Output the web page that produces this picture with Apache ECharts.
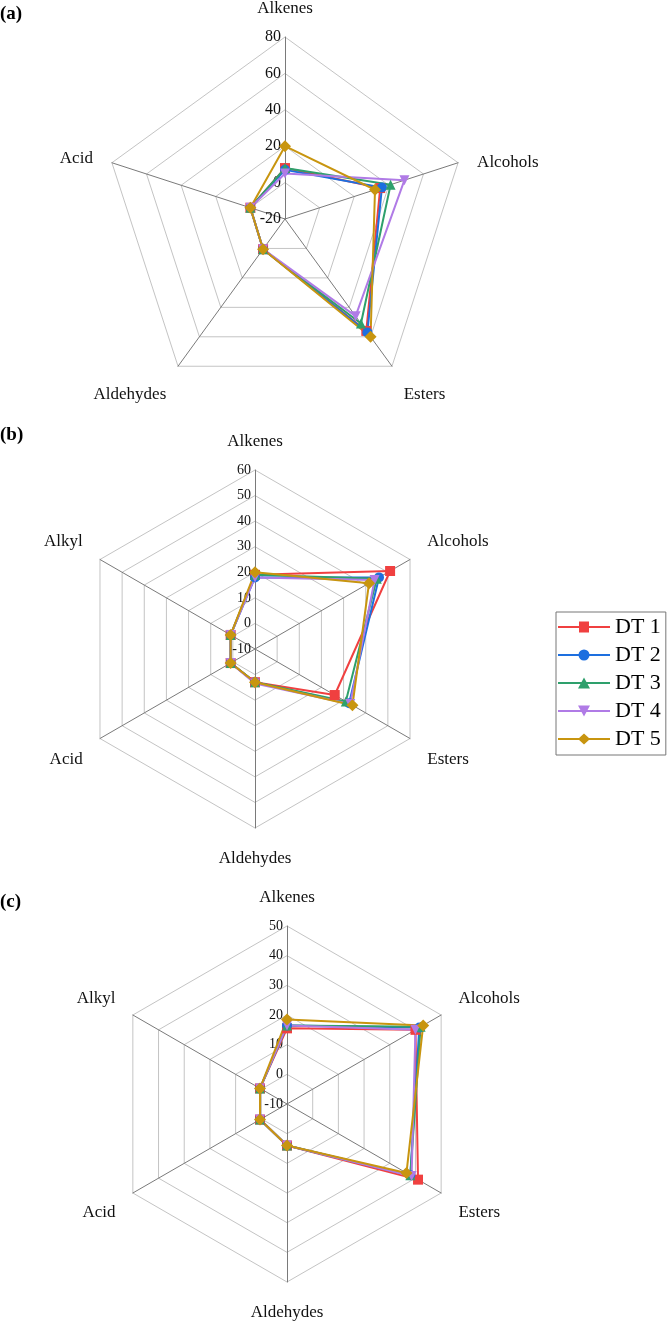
<!DOCTYPE html>
<html>
<head>
<meta charset="utf-8">
<script src="https://cdn.jsdelivr.net/npm/echarts@6/dist/echarts.min.js"></script>
<style>
  html, body { margin: 0; padding: 0; background: #fff; }
  #chart { width: 669px; height: 1329px; }
</style>
</head>
<body>
<div id="chart"></div>
<script>
// categories, clockwise from the top
const catsA = ['Alkenes', 'Alcohols', 'Esters', 'Aldehydes', 'Acid']
const catsB = ['Alkenes', 'Alcohols', 'Esters', 'Aldehydes', 'Acid', 'Alkyl']
const catsC = ['Alkenes', 'Alcohols', 'Esters', 'Aldehydes', 'Acid', 'Alkyl']

const seriesNames = ['DT 1', 'DT 2', 'DT 3', 'DT 4', 'DT 5']

// panel (a)
const dataA = [
  [8, 35, 56, 0.5, 0],
  [7, 36, 57, 0.5, 0],
  [8, 41, 51, 0.5, 0],
  [5, 49, 46, 0.5, 0],
  [20, 32, 60, 0.5, 0]
]
// panel (b)
const dataB = [
  [19, 51, 26, 3, 1, 1],
  [18, 46, 32.5, 3, 1, 1],
  [19, 45, 31, 3, 1, 1],
  [18, 44, 33, 3.5, 1, 1],
  [20, 41.5, 34, 3, 1, 1]
]
// panel (c)
const dataC = [
  [15.5, 40, 41, 4, 0.5, 0.5],
  [16.5, 41.5, 38, 4, 0.5, 0.5],
  [16.5, 42, 38, 4, 0.5, 0.5],
  [16.5, 40, 38.5, 4, 0.5, 0.5],
  [18.5, 43, 36.5, 4, 0.5, 0.5]
]

// radial scales: [min, max, splitNumber]
const scaleA = [-20, 80, 5]
const scaleB = [-10, 60, 7]
const scaleC = [-10, 50, 6]

// vertical nudge of the axis names (px, + is down), same order as the categories
const nudgeA = [0, 6, 12, 12, 2]
const nudgeB = [0, -8, 11, 2, 11, -8]
const nudgeC = [0, -6, 10, 2, 10, -6]

const colors = ['#f04040', '#1d6fdf', '#2ea06c', '#b07be6', '#c8950f']
const symbols = ['rect', 'circle', 'triangle', 'triangle', 'diamond']
const rotates = [0, 0, 0, 180, 0]
const legendIcons = [
  'path://M0,4.5H52V6.5H0Z M21,0H31V11H21Z',
  'path://M0,4.5H52V6.5H0Z M20.5,5.5A5.5,5.5 0 1 1 31.5,5.5A5.5,5.5 0 1 1 20.5,5.5Z',
  'path://M0,4.5H52V6.5H0Z M26,0L32,11L20,11Z',
  'path://M0,4.5H52V6.5H0Z M20,0H32L26,11Z',
  'path://M0,4.5H52V6.5H0Z M26,0L32,5.5L26,11L20,5.5Z'
]

const serif = 'Liberation Serif'

// echarts lays indicators out counter-clockwise
function ccw(arr) {
  return [arr[0]].concat(arr.slice(1).reverse())
}

function makeRadar(cats, scale, nudge, center, radius, tickSize) {
  const n = cats.length
  const nudges = ccw(nudge)
  return {
    center: center,
    radius: radius,
    startAngle: 90,
    shape: 'polygon',
    splitNumber: scale[2],
    nameGap: 20,
    axisName: {
      color: '#111', fontFamily: serif, fontSize: 17,
      // side names are middle-aligned, so shift them with an empty line
      formatter: (name, ind) => {
        if (ind.vertical || !ind.nudge) return name
        return ind.nudge > 0 ? '\n' + name : name + '\n'
      }
    },
    indicator: ccw(cats).map((c, i) => {
      const k = i === 0 ? 0 : n - i
      const vertical = Math.abs(Math.cos(Math.PI / 2 - 2 * Math.PI * k / n)) < 1e-6
      const d = nudges[i]
      const style = { color: '#111', fontFamily: serif, fontSize: 17 }
      if (d && vertical) {
        style.padding = d > 0 ? [d, 0, 0, 0] : [0, 0, -d, 0]
      } else if (d) {
        style.lineHeight = 2 * Math.abs(d)
      }
      const ind = { name: c, min: scale[0], max: scale[1], nudge: d, vertical: vertical, nameTextStyle: style }
      if (i === 0) {
        ind.axisLabel = { show: true, margin: 4, color: '#111', fontFamily: serif, fontSize: tickSize }
      }
      return ind
    }),
    axisLabel: { show: false },
    axisTick: { show: false },
    axisLine: { lineStyle: { color: '#7a7a7a', width: 1 } },
    splitLine: { lineStyle: { color: '#c4c4c4', width: 1 } },
    splitArea: { show: false }
  }
}

function makeSeries(data, radarIndex, symSize) {
  return {
    type: 'radar',
    radarIndex: radarIndex,
    data: data.map((vals, i) => ({
      name: seriesNames[i],
      value: ccw(vals),
      symbol: symbols[i],
      symbolSize: i === 4 ? symSize + 2 : symSize,
      symbolRotate: rotates[i],
      itemStyle: { color: colors[i] },
      lineStyle: { color: colors[i], width: 2 }
    }))
  }
}

const chart = echarts.init(document.getElementById('chart'))
chart.setOption({
  backgroundColor: '#ffffff',
  animation: false,
  title: [
    { text: '(a)', left: 0, top: 5, padding: 0, textStyle: { fontFamily: serif, fontWeight: 'bold', fontSize: 19, color: '#000' } },
    { text: '(b)', left: 0, top: 426, padding: 0, textStyle: { fontFamily: serif, fontWeight: 'bold', fontSize: 19, color: '#000' } },
    { text: '(c)', left: 0, top: 893, padding: 0, textStyle: { fontFamily: serif, fontWeight: 'bold', fontSize: 19, color: '#000' } }
  ],
  legend: {
    orient: 'vertical',
    left: 556,
    top: 612,
    padding: [3, 5, 4, 2],
    itemWidth: 52,
    itemHeight: 11,
    itemGap: 4,
    symbolKeepAspect: false,
    borderColor: '#777',
    borderWidth: 1,
    textStyle: { fontFamily: serif, fontSize: 22, lineHeight: 24, color: '#000' },
    data: seriesNames.map((n, i) => ({ name: n, icon: legendIcons[i] }))
  },
  radar: [
    makeRadar(catsA, scaleA, nudgeA, [285, 219], 182, 16),
    makeRadar(catsB, scaleB, nudgeB, [255, 649], 179, 14),
    makeRadar(catsC, scaleC, nudgeC, [287, 1104], 178, 14)
  ],
  series: [
    makeSeries(dataA, 0, 10),
    makeSeries(dataB, 1, 10),
    makeSeries(dataC, 2, 10)
  ]
})
</script>
</body>
</html>
